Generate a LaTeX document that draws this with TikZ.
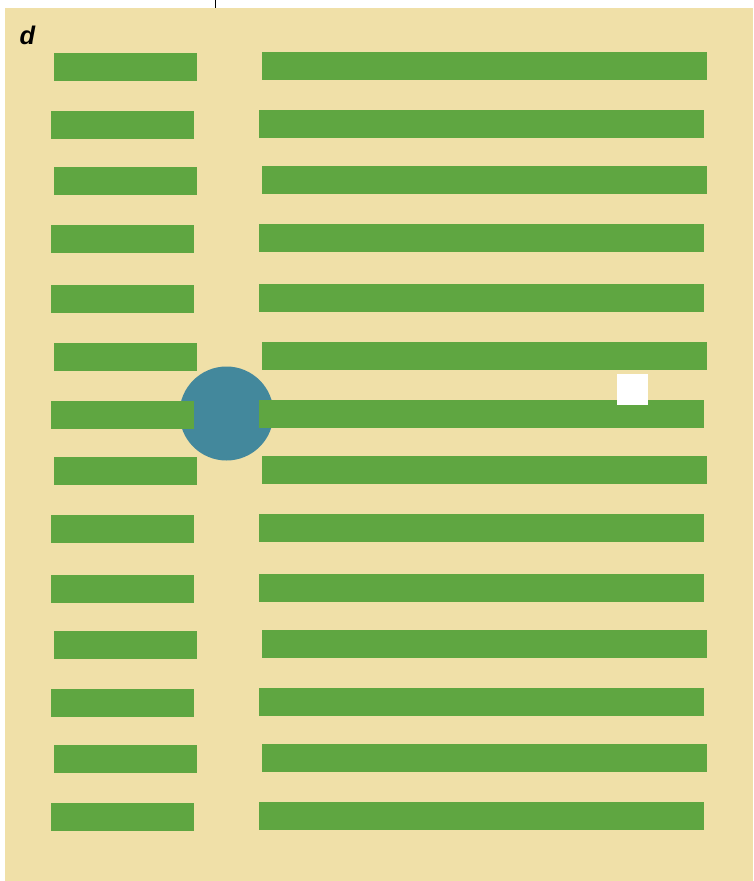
\documentclass[tikz,border=0pt]{standalone}
\usepackage{fontspec}
\setmainfont{Liberation Sans}
\definecolor{bgbeige}{HTML}{F0E0A8}
\definecolor{bargreen}{HTML}{5FA641}
\definecolor{dotteal}{HTML}{43889C}
\begin{document}
\begin{tikzpicture}[x=1pt,y=-1pt,
  barbox/.style={rectangle,fill=bargreen,draw=none,inner sep=0pt,minimum height=28pt},
  lbar/.style={barbox,minimum width=142.5pt},
  rbar/.style={barbox,minimum width=444.5pt}]
\useasboundingbox (0,0) rectangle (753,881);
\fill[bgbeige] (5,8) rectangle (753,881);
\coordinate (tick0) at (215,0);
\coordinate (tick1) at (215,8);
\draw[black,line width=0.8pt] (tick0) -- (tick1);
\node[circle,fill=dotteal,inner sep=0pt,minimum size=94pt] (dot) at (226.5,413.5) {};
% rows: offset flag (1 = shifted right by 3), left top y
\foreach \i/\o/\t in {1/1/53,2/0/111,3/1/167,4/0/225,5/0/285,6/1/343,7/0/401,8/1/457,9/0/515,10/0/575,11/1/631,12/0/689,13/1/745,14/0/803}{
  \node[lbar] (L\i) at ({122.25+3*\o},{\t+14}) {};
  \node[rbar] (R\i) at ({481.25+3*\o},{\t+13}) {};
}
\node[rectangle,fill=white,inner sep=0pt,minimum width=31pt,minimum height=31pt] (sq) at (632.5,389.5) {};
\node[anchor=base west,inner sep=0pt,font=\fontsize{25.5}{25.5}\selectfont\bfseries\itshape] (lab) at (19.5,44.5) {d};
\end{tikzpicture}
\end{document}
